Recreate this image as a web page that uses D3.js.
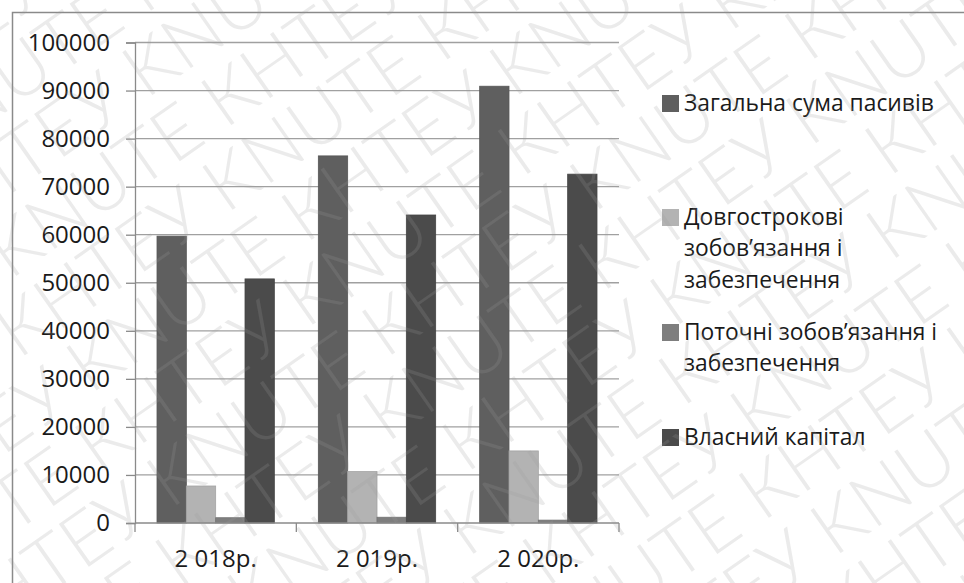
<!DOCTYPE html>
<html>
<head>
<meta charset="utf-8">
<script src="https://cdn.jsdelivr.net/npm/d3@7"></script>
<style>
  html, body { margin: 0; padding: 0; background: #fff; }
  svg { display: block; }
</style>
</head>
<body>
<svg id="chart" width="964" height="583"></svg>
<script>
// Balance-sheet liabilities by year (thousand UAH)
const years = ["2 018р.", "2 019р.", "2 020р."];
const seriesNames = [
  "Загальна сума пасивів",
  "Довгострокові зобов’язання і забезпечення",
  "Поточні зобов’язання і забезпечення",
  "Власний капітал"
];
const totalLiabilities = [59700, 76400, 90900];
const longTermLiabilities = [7700, 10700, 15000];
const currentLiabilities = [1100, 1200, 600];
const equity = [50800, 64100, 72600];
const yTicks = [0, 10000, 20000, 30000, 40000, 50000, 60000, 70000, 80000, 90000, 100000];

// Legend lines (wrapped as in the chart legend)
const legendLines = [
  ["Загальна сума пасивів"],
  ["Довгострокові", "зобов’язання і", "забезпечення"],
  ["Поточні зобов’язання і", "забезпечення"],
  ["Власний капітал"]
];

const seriesValues = [totalLiabilities, longTermLiabilities, currentLiabilities, equity];
const colors = ["#5f5f5f", "#b3b3b3", "#7e7e7e", "#4b4b4b"];

const svg = d3.select("#chart");
const W = 964, H = 583;
const plot = { left: 135, right: 619, top: 42.5, bottom: 523 };
const font = "'Open Sans', 'Noto Sans', sans-serif";

svg.append("rect").attr("width", W).attr("height", H).attr("fill", "#fff");

// outer chart frame (top and left edges visible)
svg.append("path")
  .attr("d", `M12.5,${H} V12.5 H${W}`)
  .attr("fill", "none").attr("stroke", "#8a8a8a").attr("stroke-width", 1.5);

const x = d3.scaleBand().domain(years).range([plot.left, plot.right]).padding(0);
const xi = d3.scaleBand().domain(d3.range(seriesNames.length))
  .range([0, x.bandwidth()]).paddingInner(0).paddingOuter(0.75);
const y = d3.scaleLinear().domain([0, 100000]).range([plot.bottom, plot.top]);

// horizontal gridlines
svg.append("g").selectAll("line").data(yTicks.filter(d => d > 0)).join("line")
  .attr("x1", plot.left).attr("x2", plot.right)
  .attr("y1", d => y(d)).attr("y2", d => y(d))
  .attr("stroke", "#a0a0a0").attr("stroke-width", 1.3);

// bars
const groups = svg.append("g").selectAll("g").data(years).join("g")
  .attr("transform", d => `translate(${x(d)},0)`);
groups.selectAll("rect")
  .data((d, i) => seriesValues.map((vals, s) => ({ s, v: vals[i] })))
  .join("rect")
  .attr("x", d => xi(d.s))
  .attr("width", xi.bandwidth())
  .attr("y", d => y(d.v))
  .attr("height", d => y(0) - y(d.v))
  .attr("fill", d => colors[d.s])
  .attr("stroke", d => d3.color(colors[d.s]).darker(0.25))
  .attr("stroke-width", 0.8);

// y axis
const yAxis = d3.axisLeft(y).tickValues(yTicks).tickSize(9).tickPadding(16)
  .tickFormat(d3.format("d"));
const gy = svg.append("g").attr("transform", `translate(${plot.left},0)`).call(yAxis);
gy.select(".domain").attr("stroke", "#8a8a8a").attr("stroke-width", 1.3);
gy.selectAll(".tick line").attr("stroke", "#8a8a8a").attr("stroke-width", 1.3);
gy.selectAll(".tick text").attr("font-family", font).attr("font-size", 24)
  .attr("fill", "#1a1a1a");

// x axis with ticks on category boundaries
const gx = svg.append("g").attr("transform", `translate(0,${plot.bottom})`);
gx.append("line").attr("x1", plot.left).attr("x2", plot.right)
  .attr("stroke", "#8a8a8a").attr("stroke-width", 1.3);
const bounds = years.map(d => x(d)).concat([plot.right]);
gx.selectAll("line.b").data(bounds).join("line").attr("class", "b")
  .attr("x1", d => d).attr("x2", d => d).attr("y1", 0).attr("y2", 9)
  .attr("stroke", "#8a8a8a").attr("stroke-width", 1.3);
gx.selectAll("text").data(years).join("text")
  .attr("x", d => x(d) + x.bandwidth() / 2)
  .attr("y", 44)
  .attr("text-anchor", "middle")
  .attr("font-family", font).attr("font-size", 24).attr("fill", "#1a1a1a")
  .text(d => d);

// legend
const legendY = [103, 217, 332, 437];
const lineGap = 31.5;
const lg = svg.append("g");
legendLines.forEach((lines, i) => {
  lg.append("rect").attr("x", 662).attr("y", legendY[i] - 8).attr("width", 17).attr("height", 17)
    .attr("fill", colors[i]);
  const t = lg.append("text").attr("font-family", font).attr("font-size", 22.8).attr("fill", "#1a1a1a");
  lines.forEach((ln, k) => {
    t.append("tspan").attr("x", 684).attr("y", legendY[i] + k * lineGap).attr("dy", "0.35em").text(ln);
  });
});

// diagonal watermark across the whole picture, clipped to the canvas
svg.append("clipPath").attr("id", "canvas-clip")
  .append("rect").attr("width", W).attr("height", H);
const wm = svg.append("g").attr("clip-path", "url(#canvas-clip)")
  .append("g")
  .attr("transform", `translate(${W / 2},${H / 2}) rotate(-35)`)
  .attr("pointer-events", "none");
const rowStep = 70;
const rows = d3.range(-9, 10);
wm.selectAll("text").data(rows).join("text")
  .attr("x", d => -1150 + (((d % 2) + 2) % 2) * 215)
  .attr("y", d => d * rowStep)
  .attr("font-family", "Lato, 'Liberation Sans', sans-serif")
  .attr("font-weight", 300)
  .attr("font-size", 74)
  .attr("fill", "#9a9a9a")
  .attr("fill-opacity", 0.2)
  .text("КНТЕУ KNUTE КНТЕУ KNUTE КНТЕУ KNUTE КНТЕУ KNUTE КНТЕУ KNUTE КНТЕУ KNUTE");
</script>
</body>
</html>
